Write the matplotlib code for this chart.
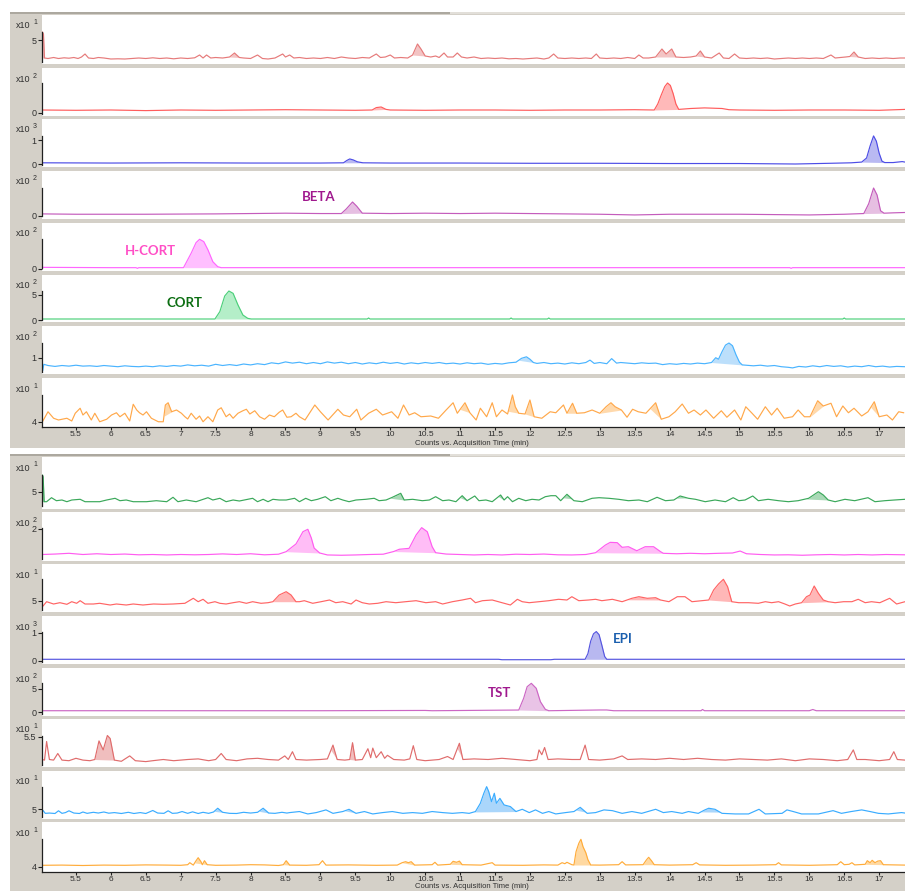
import numpy as np
import matplotlib
matplotlib.use("Agg")
import matplotlib.pyplot as plt
from matplotlib.patches import Rectangle

W, H = 905, 891
XMIN, XMAX = 5.014, 17.37
GRAY = "#d4d0c8"
plt.rcParams['font.family'] = ['Liberation Sans', 'DejaVu Sans']

# ---- traces: (time in min, counts / 10^exp) ----
p1_trace = [(5.015,3.2),(5.02,5.8),(5.035,5.6),(5.05,3.2),(5.1,3.15),(5.18,3.25),(5.25,3.15),(5.33,3.22),(5.4,3.18),(5.47,3.25),(5.53,3.15),(5.58,3.3),(5.63,3.6),(5.68,3.2),(5.75,3.15),(5.82,3.25),(5.9,3.2),(6.0,3.1),(6.1,3.12),(6.2,3.1),(6.3,3.15),(6.4,3.2),(6.5,3.15),(6.6,3.22),(6.7,3.15),(6.8,3.2),(6.9,3.12),(7.0,3.2),(7.1,3.15),(7.2,3.22),(7.27,3.5),(7.32,3.2),(7.37,3.5),(7.43,3.2),(7.5,3.25),(7.6,3.2),(7.7,3.3),(7.77,3.7),(7.84,3.25),(7.9,3.2),(8.0,3.15),(8.1,3.5),(8.17,3.15),(8.25,3.1),(8.35,3.2),(8.46,3.6),(8.5,3.3),(8.56,3.5),(8.62,3.2),(8.7,3.25),(8.8,3.15),(8.9,3.2),(9.0,3.15),(9.1,3.25),(9.2,3.15),(9.3,3.3),(9.4,3.2),(9.5,3.15),(9.6,3.25),(9.7,3.2),(9.8,3.6),(9.86,3.25),(9.93,3.3),(10.0,3.5),(10.06,3.2),(10.15,3.25),(10.25,3.2),(10.32,3.5),(10.39,4.6),(10.44,4.1),(10.5,3.4),(10.58,3.3),(10.65,3.4),(10.7,3.25),(10.77,3.7),(10.82,3.3),(10.9,3.3),(10.96,3.7),(11.02,3.3),(11.1,3.2),(11.2,3.3),(11.3,3.15),(11.4,3.2),(11.5,3.15),(11.6,3.2),(11.7,3.12),(11.8,3.15),(11.9,3.1),(12.0,3.15),(12.1,3.2),(12.2,3.1),(12.27,3.2),(12.34,3.6),(12.4,3.2),(12.5,3.15),(12.6,3.2),(12.7,3.15),(12.8,3.2),(12.88,3.15),(12.95,3.6),(13.0,3.2),(13.1,3.15),(13.2,3.2),(13.3,3.15),(13.4,3.25),(13.5,3.15),(13.56,3.5),(13.62,3.2),(13.7,3.2),(13.8,3.3),(13.89,4.1),(13.95,3.6),(14.03,4.1),(14.09,3.3),(14.2,3.25),(14.3,3.3),(14.38,3.4),(14.44,3.9),(14.5,3.3),(14.6,3.2),(14.71,3.7),(14.77,3.2),(14.85,3.15),(14.93,3.6),(15.0,3.2),(15.1,3.15),(15.2,3.2),(15.3,3.15),(15.4,3.2),(15.5,3.1),(15.6,3.15),(15.7,3.2),(15.8,3.15),(15.9,3.2),(16.0,3.15),(16.1,3.2),(16.2,3.15),(16.31,3.5),(16.37,3.2),(16.45,3.25),(16.52,3.3),(16.58,3.35),(16.64,3.8),(16.7,3.3),(16.8,3.15),(16.9,3.2),(17.0,3.15),(17.1,3.2),(17.2,3.15),(17.3,3.2),(17.37,3.2)]
p1_fill = [(5.015,5.05),(7.7,7.84),(10.32,10.5),(13.8,14.09),(14.38,14.5),(16.58,16.7)]

p2_trace = [(5.015,0.1),(5.5,0.09),(6.0,0.1),(6.5,0.08),(7.0,0.1),(7.5,0.09),(8.0,0.1),(8.5,0.11),(9.0,0.1),(9.5,0.09),(9.74,0.1),(9.8,0.18),(9.87,0.2),(9.94,0.12),(10.0,0.1),(10.5,0.09),(11.0,0.1),(11.5,0.1),(12.0,0.09),(12.5,0.1),(13.0,0.1),(13.5,0.11),(13.78,0.1),(13.83,0.3),(13.88,0.6),(13.93,0.88),(13.97,1.0),(14.01,0.92),(14.05,0.65),(14.09,0.3),(14.13,0.12),(14.3,0.15),(14.5,0.17),(14.75,0.15),(14.85,0.11),(15.0,0.1),(15.5,0.09),(16.0,0.1),(16.5,0.1),(17.0,0.09),(17.37,0.12)]
p2_fill = [(9.74,9.94),(13.78,14.13)]

p3_trace = [(5.015,0.05),(6,0.04),(7,0.05),(8,0.04),(9,0.04),(9.33,0.05),(9.38,0.15),(9.42,0.21),(9.47,0.17),(9.53,0.09),(9.61,0.05),(10,0.04),(11,0.04),(12,0.03),(13,0.03),(14,0.02),(15,0.02),(15.8,0.0),(16.3,0.03),(16.6,0.05),(16.75,0.08),(16.82,0.25),(16.87,0.75),(16.92,1.17),(16.96,0.95),(17.0,0.45),(17.04,0.12),(17.08,0.06),(17.2,0.06),(17.33,0.1),(17.37,0.08)]
p3_fill = [(9.33,9.61),(16.75,17.08)]

p4_trace = [(5.015,0.06),(5.5,0.05),(6.5,0.05),(7.5,0.06),(8.5,0.08),(9.0,0.07),(9.3,0.07),(9.37,0.2),(9.46,0.4),(9.52,0.28),(9.6,0.08),(10.0,0.07),(10.5,0.08),(11.0,0.07),(11.5,0.08),(12.0,0.07),(12.5,0.06),(13.0,0.05),(13.5,0.03),(14.0,0.05),(14.5,0.05),(15.0,0.05),(15.5,0.04),(16.0,0.03),(16.5,0.05),(16.78,0.07),(16.85,0.35),(16.92,0.8),(16.97,0.6),(17.02,0.15),(17.07,0.08),(17.2,0.09),(17.37,0.1)]
p4_fill = [(9.3,9.6),(16.78,17.07)]

p5_trace = [(5.015,0.05),(6.0,0.04),(6.36,0.04),(6.38,0.02),(6.40,0.04),(7.0,0.04),(7.04,0.04),(7.15,0.48),(7.22,0.8),(7.27,0.9),(7.33,0.83),(7.39,0.58),(7.46,0.22),(7.53,0.07),(7.58,0.04),(8,0.04),(10,0.04),(12,0.04),(14,0.04),(15.72,0.04),(15.74,0.02),(15.76,0.04),(17.37,0.04)]
p5_fill = [(7.04,7.58)]

p6_trace = [(5.015,0.2),(7.49,0.2),(7.56,1.67),(7.63,4.8),(7.69,5.8),(7.75,5.33),(7.82,3.0),(7.89,1.0),(7.96,0.33),(8.01,0.2),(9.67,0.2),(9.69,0.4),(9.71,0.2),(11.71,0.2),(11.73,0.4),(11.75,0.2),(12.25,0.2),(12.27,0.4),(12.29,0.2),(16.48,0.2),(16.5,0.4),(16.52,0.2),(17.37,0.2)]
p6_fill = [(7.49,8.01)]

p7_trace = [(5.015,0.83),(5.025,0.57),(5.04,0.78),(5.1,0.74),(5.2,0.71),(5.3,0.74),(5.4,0.72),(5.5,0.75),(5.6,0.72),(5.7,0.73),(5.8,0.71),(5.9,0.74),(6.0,0.72),(6.1,0.7),(6.2,0.73),(6.3,0.71),(6.4,0.7),(6.5,0.72),(6.6,0.7),(6.7,0.73),(6.8,0.71),(6.9,0.74),(7.0,0.72),(7.1,0.76),(7.2,0.73),(7.3,0.75),(7.4,0.72),(7.5,0.78),(7.6,0.74),(7.7,0.77),(7.8,0.74),(7.9,0.79),(8.0,0.76),(8.1,0.8),(8.2,0.77),(8.3,0.83),(8.4,0.8),(8.5,0.86),(8.6,0.82),(8.7,0.85),(8.8,0.8),(8.9,0.84),(9.0,0.8),(9.1,0.86),(9.2,0.82),(9.3,0.85),(9.4,0.8),(9.5,0.84),(9.6,0.79),(9.7,0.83),(9.8,0.8),(9.9,0.85),(10.0,0.81),(10.1,0.84),(10.2,0.79),(10.3,0.83),(10.4,0.8),(10.5,0.84),(10.6,0.81),(10.7,0.84),(10.8,0.8),(10.9,0.82),(11.0,0.79),(11.1,0.83),(11.2,0.8),(11.3,0.82),(11.4,0.78),(11.5,0.81),(11.6,0.79),(11.7,0.83),(11.8,0.85),(11.88,0.98),(11.95,1.03),(12.0,0.95),(12.05,0.84),(12.1,0.81),(12.2,0.84),(12.3,0.8),(12.4,0.82),(12.5,0.79),(12.6,0.83),(12.7,0.8),(12.8,0.84),(12.86,0.92),(12.92,0.81),(13.0,0.84),(13.1,0.8),(13.17,0.97),(13.24,0.82),(13.3,0.84),(13.4,0.82),(13.5,0.8),(13.6,0.83),(13.7,0.81),(13.8,0.82),(13.9,0.77),(14.0,0.8),(14.1,0.78),(14.2,0.81),(14.3,0.79),(14.4,0.82),(14.5,0.8),(14.6,0.84),(14.66,1.0),(14.7,0.95),(14.75,1.2),(14.8,1.42),(14.85,1.49),(14.9,1.4),(14.95,1.1),(15.0,0.85),(15.04,0.76),(15.1,0.75),(15.2,0.73),(15.3,0.75),(15.4,0.72),(15.5,0.74),(15.6,0.7),(15.7,0.68),(15.76,0.66),(15.85,0.71),(15.95,0.69),(16.05,0.73),(16.15,0.7),(16.25,0.74),(16.35,0.71),(16.45,0.73),(16.55,0.69),(16.65,0.72),(16.75,0.7),(16.85,0.74),(16.95,0.7),(17.05,0.72),(17.15,0.69),(17.25,0.71),(17.37,0.7)]
p7_fill = [(11.84,12.05),(14.6,15.04)]

p8_trace = [(5.015,4.05),(5.02,4.01),(5.10,4.41),(5.18,4.15),(5.25,4.08),(5.37,4.15),(5.44,4.04),(5.49,4.35),(5.56,4.55),(5.60,4.28),(5.65,4.41),(5.72,4.08),(5.77,4.35),(5.84,4.01),(5.94,4.11),(6.01,4.28),(6.08,4.37),(6.13,4.21),(6.20,4.35),(6.27,4.04),(6.32,4.71),(6.37,4.48),(6.41,4.37),(6.46,4.28),(6.51,4.41),(6.58,4.15),(6.63,4.08),(6.68,4.01),(6.75,4.01),(6.78,4.68),(6.82,4.77),(6.87,4.41),(6.94,4.48),(7.01,4.35),(7.06,4.21),(7.10,4.12),(7.15,4.35),(7.22,4.11),(7.27,4.24),(7.32,4.01),(7.39,4.21),(7.46,4.01),(7.53,4.48),(7.58,4.57),(7.65,4.21),(7.70,4.32),(7.75,4.15),(7.82,4.35),(7.89,4.45),(7.94,4.51),(7.99,4.32),(8.06,4.45),(8.13,4.21),(8.20,4.11),(8.27,4.28),(8.34,4.21),(8.41,4.39),(8.46,4.48),(8.52,4.19),(8.58,4.21),(8.65,4.35),(8.70,4.21),(8.78,4.08),(8.92,4.68),(9.00,4.41),(9.11,4.08),(9.25,4.51),(9.33,4.28),(9.42,4.21),(9.52,4.51),(9.58,4.08),(9.69,4.35),(9.80,4.51),(9.89,4.28),(10.02,4.41),(10.11,4.15),(10.19,4.68),(10.27,4.28),(10.35,4.37),(10.44,4.21),(10.58,4.24),(10.69,4.15),(10.80,4.48),(10.90,4.77),(10.96,4.35),(11.07,4.77),(11.14,4.37),(11.23,4.08),(11.29,4.55),(11.38,4.21),(11.46,4.77),(11.52,4.21),(11.60,4.48),(11.68,4.32),(11.75,5.08),(11.79,4.61),(11.84,4.35),(11.93,4.32),(12.00,4.88),(12.06,4.21),(12.17,4.15),(12.29,4.41),(12.37,4.37),(12.48,4.68),(12.53,4.35),(12.61,4.75),(12.67,4.35),(12.78,4.37),(12.89,4.48),(13.00,4.35),(13.09,4.61),(13.16,4.77),(13.22,4.61),(13.31,4.48),(13.39,4.19),(13.47,4.51),(13.55,4.41),(13.66,4.35),(13.80,4.77),(13.88,4.11),(13.99,4.21),(14.08,4.41),(14.18,4.72),(14.27,4.35),(14.35,4.48),(14.44,4.28),(14.52,4.48),(14.63,4.15),(14.74,4.45),(14.82,4.19),(14.93,4.48),(15.02,4.08),(15.09,4.61),(15.18,4.35),(15.26,4.11),(15.37,4.61),(15.46,4.28),(15.54,4.55),(15.64,4.15),(15.76,4.21),(15.84,4.48),(15.93,4.21),(16.01,4.21),(16.12,4.85),(16.20,4.64),(16.31,4.75),(16.39,4.21),(16.48,4.64),(16.56,4.37),(16.64,4.55),(16.75,4.24),(16.84,4.41),(16.93,4.81),(17.00,4.21),(17.11,4.28),(17.19,4.08),(17.28,4.41),(17.35,4.37)]
p8_fill = [(6.76,6.87),(11.0,11.14),(11.69,11.84),(11.93,12.06),(12.53,12.67),(13.0,13.31),(13.72,13.88),(16.01,16.2),(16.88,17.0)]

q1_trace = [(5.015,4.0),(5.02,6.67),(5.03,6.5),(5.045,4.0),(5.08,4.0),(5.15,4.4),(5.22,4.1),(5.3,4.17),(5.37,4.0),(5.44,4.17),(5.56,4.24),(5.63,4.0),(5.84,4.0),(5.94,4.17),(6.06,4.34),(6.13,4.1),(6.22,4.17),(6.32,4.0),(6.51,4.0),(6.65,4.1),(6.8,4.0),(6.89,4.44),(6.96,4.0),(7.08,4.17),(7.22,4.0),(7.39,4.4),(7.46,4.17),(7.56,4.34),(7.65,4.0),(7.75,4.17),(7.84,4.07),(8.03,4.34),(8.1,4.0),(8.18,4.24),(8.25,4.0),(8.32,4.24),(8.41,4.17),(8.51,4.17),(8.63,4.34),(8.7,4.0),(8.79,4.34),(8.87,4.1),(8.96,4.24),(9.07,4.5),(9.15,4.1),(9.25,4.34),(9.32,4.17),(9.41,4.0),(9.51,4.17),(9.65,4.24),(9.77,4.34),(9.84,4.1),(9.94,4.17),(10.03,4.44),(10.15,4.84),(10.2,4.17),(10.32,4.24),(10.46,4.1),(10.56,4.17),(10.65,4.5),(10.75,4.1),(10.84,4.17),(10.94,4.0),(11.03,4.6),(11.1,4.1),(11.21,4.57),(11.27,4.1),(11.37,4.17),(11.46,4.0),(11.58,4.67),(11.63,4.17),(11.68,4.5),(11.75,4.0),(11.84,4.34),(11.94,4.1),(12.03,4.24),(12.13,4.17),(12.22,4.5),(12.3,4.6),(12.37,4.6),(12.44,4.1),(12.53,4.74),(12.63,4.1),(12.75,4.0),(12.89,4.34),(12.99,4.4),(13.13,4.34),(13.27,4.24),(13.41,4.1),(13.56,4.17),(13.68,4.0),(13.82,4.44),(13.94,4.1),(14.06,4.17),(14.15,4.57),(14.27,4.34),(14.37,4.24),(14.51,4.0),(14.65,4.17),(14.8,4.0),(14.91,4.4),(14.99,4.1),(15.08,4.17),(15.19,4.57),(15.27,4.1),(15.41,4.24),(15.56,4.1),(15.7,4.0),(15.84,4.1),(15.99,4.34),(16.13,5.0),(16.2,4.67),(16.27,4.17),(16.37,4.0),(16.51,4.24),(16.65,4.1),(16.84,4.4),(16.94,4.0),(17.08,4.1),(17.22,4.17),(17.37,4.24)]
q1_fill = [(5.015,5.045),(10.0,10.2),(11.0,11.1),(11.55,11.63),(12.48,12.6),(14.1,14.25),(15.95,16.27)]

q2_trace = [(5.015,0.3),(5.2,0.33),(5.4,0.38),(5.6,0.3),(5.8,0.35),(6.0,0.3),(6.2,0.33),(6.4,0.28),(6.6,0.3),(6.8,0.27),(7.0,0.3),(7.2,0.28),(7.4,0.3),(7.6,0.34),(7.8,0.3),(8.0,0.35),(8.2,0.28),(8.4,0.32),(8.51,0.49),(8.6,0.82),(8.65,1.0),(8.7,1.4),(8.75,1.82),(8.82,1.98),(8.87,1.4),(8.91,0.73),(8.99,0.4),(9.1,0.27),(9.3,0.25),(9.5,0.27),(9.7,0.3),(9.9,0.32),(10.05,0.5),(10.13,0.65),(10.27,0.71),(10.37,1.6),(10.45,2.09),(10.53,1.82),(10.6,0.82),(10.65,0.42),(10.8,0.33),(11.0,0.3),(11.2,0.27),(11.4,0.3),(11.6,0.27),(11.8,0.32),(12.0,0.3),(12.2,0.33),(12.4,0.28),(12.6,0.27),(12.8,0.3),(12.94,0.42),(13.08,0.93),(13.15,1.11),(13.25,1.09),(13.32,0.78),(13.41,0.82),(13.53,0.55),(13.65,0.82),(13.77,0.82),(13.87,0.49),(13.91,0.38),(14.1,0.35),(14.3,0.38),(14.5,0.35),(14.7,0.38),(14.9,0.4),(15.01,0.53),(15.1,0.35),(15.3,0.3),(15.5,0.27),(15.7,0.28),(15.9,0.25),(16.1,0.28),(16.3,0.3),(16.5,0.27),(16.7,0.3),(16.9,0.27),(17.1,0.3),(17.37,0.28)]
q2_fill = [(8.51,8.99),(10.05,10.65),(12.94,13.91)]

q3_trace = [(5.015,4.4),(5.02,4.4),(5.08,4.9),(5.18,4.67),(5.27,4.8),(5.37,4.64),(5.44,4.9),(5.51,4.74),(5.56,5.0),(5.63,4.67),(5.75,4.67),(5.84,4.74),(5.99,4.57),(6.08,4.67),(6.22,4.57),(6.32,4.67),(6.46,4.57),(6.61,4.67),(6.75,4.64),(6.89,4.67),(7.06,4.74),(7.18,5.24),(7.25,4.9),(7.32,5.14),(7.39,4.74),(7.49,4.9),(7.56,4.74),(7.65,4.67),(7.75,4.8),(7.84,4.9),(7.94,4.74),(8.03,4.9),(8.15,4.74),(8.25,4.8),(8.32,4.9),(8.41,5.57),(8.51,5.9),(8.58,5.57),(8.65,4.9),(8.7,4.9),(8.77,5.0),(8.89,4.74),(9.01,4.9),(9.13,5.07),(9.22,4.8),(9.32,4.9),(9.44,4.67),(9.51,5.07),(9.6,4.8),(9.7,4.67),(9.82,4.74),(9.94,4.9),(10.08,4.8),(10.22,4.9),(10.37,5.0),(10.51,4.8),(10.65,4.9),(10.75,4.67),(10.89,4.9),(11.03,5.07),(11.15,5.24),(11.22,4.8),(11.32,5.0),(11.46,5.07),(11.6,4.8),(11.72,4.57),(11.82,5.14),(11.89,4.9),(11.99,4.8),(12.13,4.9),(12.27,5.0),(12.41,5.14),(12.53,5.07),(12.6,5.4),(12.7,5.0),(12.84,5.07),(12.94,5.14),(13.03,5.0),(13.18,5.14),(13.32,4.9),(13.46,5.24),(13.56,5.4),(13.68,5.24),(13.8,5.3),(13.87,5.07),(13.99,4.9),(14.11,5.4),(14.22,5.4),(14.32,4.9),(14.46,5.0),(14.56,5.07),(14.63,6.07),(14.7,6.67),(14.77,7.14),(14.83,6.4),(14.89,4.9),(14.99,4.8),(15.13,4.8),(15.27,4.74),(15.37,4.9),(15.46,4.8),(15.56,4.9),(15.65,4.67),(15.72,4.47),(15.8,4.67),(15.89,4.8),(15.96,5.4),(16.01,5.57),(16.07,6.47),(16.13,5.74),(16.2,5.07),(16.27,4.9),(16.37,4.8),(16.49,4.9),(16.61,4.9),(16.7,5.14),(16.8,4.8),(16.89,4.9),(17.01,4.8),(17.15,5.24),(17.25,4.67),(17.37,4.9)]
q3_fill = [(8.32,8.65),(13.4,13.87),(14.56,14.89),(15.89,16.27)]

q4_trace = [(5.015,0.05),(6,0.05),(7,0.05),(8,0.05),(9,0.05),(10,0.05),(11,0.05),(11.55,0.05),(11.6,0.035),(12.3,0.035),(12.35,0.05),(12.79,0.05),(12.83,0.25),(12.87,0.7),(12.91,0.96),(12.95,1.04),(12.99,0.93),(13.03,0.55),(13.07,0.15),(13.1,0.05),(14,0.05),(15,0.05),(16,0.05),(17.37,0.05)]
q4_fill = [(12.79,13.1)]

q5_trace = [(5.015,0.34),(7,0.34),(9,0.34),(10.5,0.4),(10.6,0.34),(11.84,0.49),(11.91,3.0),(11.96,5.48),(12.02,6.21),(12.09,5.14),(12.15,2.27),(12.22,0.64),(12.27,0.34),(13,0.5),(13.1,0.5),(13.2,0.34),(14.45,0.34),(14.47,0.6),(14.5,0.34),(16.0,0.34),(16.05,0.6),(16.1,0.34),(17.37,0.34)]
q5_fill = [(11.84,12.27)]

q6_trace = [(5.015,5.12),(5.05,5.11),(5.08,5.42),(5.12,5.12),(5.18,5.11),(5.24,5.22),(5.3,5.11),(5.4,5.1),(5.5,5.14),(5.6,5.11),(5.7,5.1),(5.77,5.12),(5.83,5.43),(5.89,5.28),(5.95,5.52),(5.99,5.47),(6.05,5.11),(6.15,5.09),(6.27,5.18),(6.35,5.1),(6.5,5.085),(6.6,5.1),(6.75,5.12),(6.9,5.1),(7.1,5.12),(7.25,5.13),(7.4,5.1),(7.5,5.12),(7.58,5.22),(7.65,5.12),(7.8,5.1),(7.95,5.13),(8.1,5.14),(8.25,5.12),(8.4,5.11),(8.49,5.18),(8.54,5.12),(8.6,5.25),(8.65,5.12),(8.8,5.11),(9.0,5.12),(9.1,5.13),(9.18,5.36),(9.24,5.12),(9.35,5.11),(9.42,5.12),(9.46,5.40),(9.5,5.11),(9.6,5.12),(9.68,5.3),(9.72,5.15),(9.75,5.31),(9.8,5.15),(9.87,5.25),(9.92,5.14),(9.96,5.19),(10.05,5.12),(10.2,5.11),(10.28,5.13),(10.33,5.35),(10.38,5.12),(10.5,5.1),(10.7,5.12),(10.82,5.17),(10.9,5.12),(10.99,5.39),(11.04,5.12),(11.2,5.13),(11.4,5.12),(11.6,5.14),(11.8,5.12),(12.0,5.1),(12.1,5.12),(12.13,5.28),(12.17,5.2),(12.21,5.32),(12.26,5.12),(12.4,5.13),(12.6,5.12),(12.72,5.12),(12.79,5.36),(12.84,5.12),(13.0,5.11),(13.2,5.13),(13.32,5.18),(13.4,5.12),(13.6,5.13),(13.8,5.12),(14.0,5.14),(14.2,5.12),(14.4,5.14),(14.6,5.12),(14.8,5.11),(15.0,5.13),(15.2,5.12),(15.4,5.11),(15.6,5.13),(15.8,5.1),(16.0,5.13),(16.2,5.12),(16.4,5.1),(16.55,5.12),(16.63,5.28),(16.68,5.12),(16.8,5.12),(17.0,5.1),(17.15,5.12),(17.21,5.25),(17.26,5.12),(17.37,5.11)]
q6_fill = [(5.77,6.05),(9.15,9.24),(9.42,9.5),(10.96,11.04)]

q7_trace = [(5.015,4.8),(5.03,4.92),(5.06,4.73),(5.12,4.75),(5.2,4.72),(5.25,4.9),(5.3,4.73),(5.35,4.78),(5.4,4.9),(5.47,4.75),(5.55,4.72),(5.6,4.82),(5.66,4.73),(5.75,4.8),(5.82,4.75),(5.9,4.82),(5.97,4.74),(6.05,4.78),(6.15,4.72),(6.25,4.8),(6.33,4.72),(6.42,4.78),(6.5,4.72),(6.6,4.92),(6.67,4.75),(6.76,4.73),(6.82,4.9),(6.88,4.73),(6.95,4.75),(7.02,4.85),(7.1,4.73),(7.17,4.83),(7.25,4.72),(7.32,4.8),(7.4,4.73),(7.47,4.82),(7.53,5.07),(7.6,4.8),(7.7,4.73),(7.8,4.72),(7.9,4.8),(8.0,4.75),(8.1,4.8),(8.18,5.07),(8.26,4.75),(8.35,4.73),(8.45,4.8),(8.52,4.75),(8.56,4.78),(8.7,4.85),(8.82,4.69),(8.94,4.78),(9.08,4.96),(9.18,4.73),(9.32,4.85),(9.41,5.0),(9.51,4.73),(9.63,4.85),(9.75,4.69),(9.89,4.78),(10.03,4.85),(10.18,4.73),(10.32,4.78),(10.46,4.73),(10.6,4.85),(10.75,4.78),(10.89,4.73),(11.03,4.78),(11.13,4.73),(11.22,4.85),(11.29,5.4),(11.34,6.07),(11.38,6.51),(11.41,6.18),(11.45,5.51),(11.49,6.07),(11.52,5.4),(11.57,5.73),(11.63,5.29),(11.72,5.18),(11.8,4.85),(11.89,5.0),(11.99,4.78),(12.08,4.96),(12.18,4.73),(12.27,4.85),(12.37,4.69),(12.51,4.78),(12.63,4.85),(12.72,5.13),(12.82,4.73),(12.94,4.78),(13.06,4.96),(13.18,4.91),(13.32,4.73),(13.46,4.85),(13.6,4.73),(13.8,5.0),(13.91,4.78),(14.03,4.85),(14.18,4.73),(14.27,4.85),(14.41,4.73),(14.5,4.95),(14.56,5.07),(14.65,5.0),(14.75,4.73),(14.94,4.69),(15.13,4.69),(15.28,5.0),(15.37,4.69),(15.61,4.73),(15.68,4.96),(15.77,4.85),(15.89,4.69),(16.13,4.69),(16.34,4.91),(16.46,4.73),(16.6,4.85),(16.75,4.96),(16.87,4.85),(16.99,4.73),(17.13,4.69),(17.32,4.78),(17.37,4.75)]
q7_fill = [(7.48,7.6),(8.12,8.26),(9.35,9.5),(11.2,11.8),(12.66,12.8),(14.45,14.72)]

q8_trace = [(5.015,4.07),(5.3,4.08),(5.6,4.06),(5.9,4.08),(6.2,4.07),(6.5,4.09),(6.8,4.08),(7.0,4.07),(7.1,4.1),(7.13,4.2),(7.18,4.08),(7.22,4.3),(7.25,4.45),(7.29,4.25),(7.31,4.1),(7.34,4.3),(7.38,4.1),(7.5,4.07),(7.8,4.08),(8.0,4.1),(8.2,4.09),(8.4,4.06),(8.47,4.1),(8.51,4.3),(8.56,4.08),(8.8,4.07),(8.98,4.1),(9.03,4.3),(9.08,4.08),(9.4,4.09),(9.8,4.07),(10.1,4.08),(10.17,4.2),(10.22,4.25),(10.26,4.2),(10.3,4.25),(10.35,4.08),(10.6,4.1),(10.64,4.22),(10.68,4.08),(10.86,4.12),(10.9,4.27),(10.95,4.22),(10.99,4.28),(11.03,4.1),(11.3,4.08),(11.46,4.2),(11.5,4.08),(11.9,4.07),(12.2,4.09),(12.4,4.08),(12.46,4.2),(12.5,4.15),(12.53,4.22),(12.6,4.1),(12.63,4.085),(12.66,4.75),(12.7,5.17),(12.73,5.37),(12.76,5.0),(12.8,4.7),(12.83,4.35),(12.87,4.085),(13.0,4.08),(13.27,4.1),(13.32,4.25),(13.37,4.09),(13.62,4.1),(13.67,4.35),(13.7,4.47),(13.74,4.3),(13.78,4.1),(14.0,4.08),(14.33,4.1),(14.38,4.2),(14.43,4.09),(14.8,4.07),(15.2,4.08),(15.52,4.1),(15.56,4.2),(15.6,4.09),(16.0,4.07),(16.4,4.1),(16.45,4.25),(16.5,4.1),(16.57,4.12),(16.61,4.2),(16.65,4.09),(16.8,4.12),(16.83,4.3),(16.87,4.2),(16.9,4.32),(16.94,4.2),(16.98,4.28),(17.02,4.3),(17.06,4.1),(17.37,4.08)]
q8_fill = [(7.2,7.38),(8.47,8.56),(10.17,10.35),(10.86,11.03),(12.63,12.87),(13.62,13.78),(16.8,17.06)]

top_traces = [p1_trace, p2_trace, p3_trace, p4_trace, p5_trace, p6_trace, p7_trace, p8_trace]
top_fills = [p1_fill, p2_fill, p3_fill, p4_fill, p5_fill, p6_fill, p7_fill, p8_fill]
bot_traces = [q1_trace, q2_trace, q3_trace, q4_trace, q5_trace, q6_trace, q7_trace, q8_trace]
bot_fills = [q1_fill, q2_fill, q3_fill, q4_fill, q5_fill, q6_fill, q7_fill, q8_fill]

top_exp = [1, 2, 3, 2, 2, 2, 2, 1]
bot_exp = [1, 2, 1, 3, 2, 1, 1, 1]
top_yticks = [[5], [0], [0, 1], [0], [0], [0, 5], [1], [4]]
bot_yticks = [[5], [2], [5], [0, 1], [0, 5], [5.5], [5], [4]]
top_ylim = [(2.6, 7.5), (-0.1, 1.5), (-0.125, 1.875), (-0.086, 1.286), (-0.061, 1.394), (-0.4, 9.0), (0.457, 2.057), (3.8, 5.76)]
bot_ylim = [(3.27, 8.47), (-0.133, 3.133), (3.87, 8.67), (-0.118, 1.596), (-0.79, 9.49), (4.995, 5.795), (4.353, 7.553), (3.735, 6.235)]

top_colors = ["#e67a7a", "#ff5c5c", "#4d4de6", "#c45cbc", "#ff66ff", "#4cd07a", "#4ab4ff", "#ffa84a"]
top_fillc = ["#f3c4c4", "#ffb9b9", "#b9b9f2", "#e6bfe2", "#ffbfff", "#b4eec8", "#bcdffb", "#ffd9ac"]
bot_colors = ["#3aa85a", "#ff5cf0", "#ff6464", "#5555e0", "#cc66c4", "#e06c6c", "#3aacff", "#ffac3a"]
bot_fillc = ["#a9d9b6", "#ffbdf6", "#ffb7b7", "#b8b8f0", "#e9c3e6", "#f0bebe", "#aad6fb", "#ffd9a2"]

x_ticks = [5.5, 6, 6.5, 7, 7.5, 8, 8.5, 9, 9.5, 10, 10.5, 11, 11.5, 12, 12.5, 13, 13.5, 14, 14.5, 15, 15.5, 16, 16.5, 17]
x_labels = ["5.5", "6", "6.5", "7", "7.5", "8", "8.5", "9", "9.5", "10", "10.5", "11", "11.5", "12", "12.5", "13", "13.5", "14", "14.5", "15", "15.5", "16", "16.5", "17"]

# compound labels: (group, panel, time, value, text, colour)
peak_names = [(0, 3, 8.97, 0.54, "BETA", "#a0198e"),
              (0, 4, 6.57, 0.545, "H-CORT", "#ff4fc6"),
              (0, 5, 7.06, 3.4, "CORT", "#0c6e12"),
              (1, 3, 13.33, 0.775, "EPI", "#1a5fae"),
              (1, 4, 11.56, 4.07, "TST", "#a0198e")]

# pixel layout (top, bottom) of each strip
top_rows = [(15, 64), (68, 116), (119, 167), (171, 219), (223, 271), (275, 322), (326, 374), (378, 427)]
bot_rows = [(457, 509), (512, 561), (564, 612), (616, 664), (668, 716), (719, 767), (771, 819), (822, 872)]
xlabel_y = [443, 887]
LEFT = 42

fig = plt.figure(figsize=(W / 100, H / 100), dpi=100)
fig.patch.set_facecolor("white")

bg = fig.add_axes([0, 0, 1, 1])
bg.set_xlim(0, W)
bg.set_ylim(H, 0)
bg.axis("off")
bg.add_patch(Rectangle((10, 13), W - 10, 435, color=GRAY, lw=0))
bg.add_patch(Rectangle((10, 455), W - 10, H - 455, color=GRAY, lw=0))
for yy in (12, 454):
    bg.add_patch(Rectangle((10, yy), 440, 2, color="#aca89f", lw=0))
    bg.add_patch(Rectangle((450, yy), W - 450, 2, color="#e2dfd9", lw=0))


def fx(px):
    return px / W


def fy(py):
    return 1 - py / H


def draw_panel(row, trace, fills, color, fcolor, ylim, yticks, exp, label_y):
    top, bottom = row
    ax = fig.add_axes([fx(LEFT), fy(bottom), fx(W - LEFT), (bottom - top) / H])
    ax.set_facecolor("white")
    t = np.array([p[0] for p in trace])
    y = np.array([p[1] for p in trace])
    for a, b in fills:
        inside = (t > a) & (t < b)
        ya, yb = np.interp([a, b], t, y)
        ts = np.concatenate([[a], t[inside], [b]])
        ys = np.concatenate([[ya], y[inside], [yb]])
        base = np.interp(ts, [a, b], [ya, yb])
        ax.fill_between(ts, ys, base, color=fcolor, lw=0)
    ax.plot(t, y, color=color, lw=0.85)
    ax.set_xlim(XMIN, XMAX)
    ax.set_ylim(*ylim)
    for s in ("top", "right"):
        ax.spines[s].set_visible(False)
    lo, hi = ylim
    last = label_y is not None
    spine_lo = lo if last else lo + (hi - lo) * 2.5 / (bottom - top)
    ax.spines["left"].set_bounds(spine_lo, y.max())
    ax.spines["left"].set_color("#202020")
    ax.spines["left"].set_linewidth(0.9)
    ax.set_yticks(yticks)
    ax.set_yticklabels([("%g" % v) for v in yticks])
    ax.tick_params(axis="y", direction="out", length=3, width=0.8, pad=1,
                   labelsize=6.5, colors="#202020", labelcolor="#303030")
    if last:
        ax.spines["bottom"].set_color("#202020")
        ax.spines["bottom"].set_linewidth(0.9)
        ax.set_xticks(x_ticks)
        ax.set_xticklabels(x_labels)
        ax.tick_params(axis="x", direction="out", length=2.5, width=0.8, pad=0.5,
                       labelsize=6, colors="#202020", labelcolor="#303030")
        fig.text(fx(472), fy(label_y), "Counts vs. Acquisition Time (min)",
                 ha="center", va="center", fontsize=5.5, color="#303030")
    else:
        ax.spines["bottom"].set_visible(False)
        ax.set_xticks([])
    fig.text(fx(16), fy(top + 11), "x10", ha="left", va="center", fontsize=6.5, color="#303030")
    fig.text(fx(33), fy(top + 8), str(exp), ha="left", va="center", fontsize=5, color="#303030")
    return ax


axes = [[], []]
for i in range(8):
    axes[0].append(draw_panel(top_rows[i], top_traces[i], top_fills[i], top_colors[i], top_fillc[i],
                              top_ylim[i], top_yticks[i], top_exp[i], xlabel_y[0] if i == 7 else None))
    axes[1].append(draw_panel(bot_rows[i], bot_traces[i], bot_fills[i], bot_colors[i], bot_fillc[i],
                              bot_ylim[i], bot_yticks[i], bot_exp[i], xlabel_y[1] if i == 7 else None))

for g, k, tx, ty, name, col in peak_names:
    axes[g][k].text(tx, ty, name, ha="center", va="center", fontsize=9.5,
                    fontweight="bold", family=["Lato", "DejaVu Sans"], color=col)

fig.savefig("out.png", dpi=100, facecolor="white")
